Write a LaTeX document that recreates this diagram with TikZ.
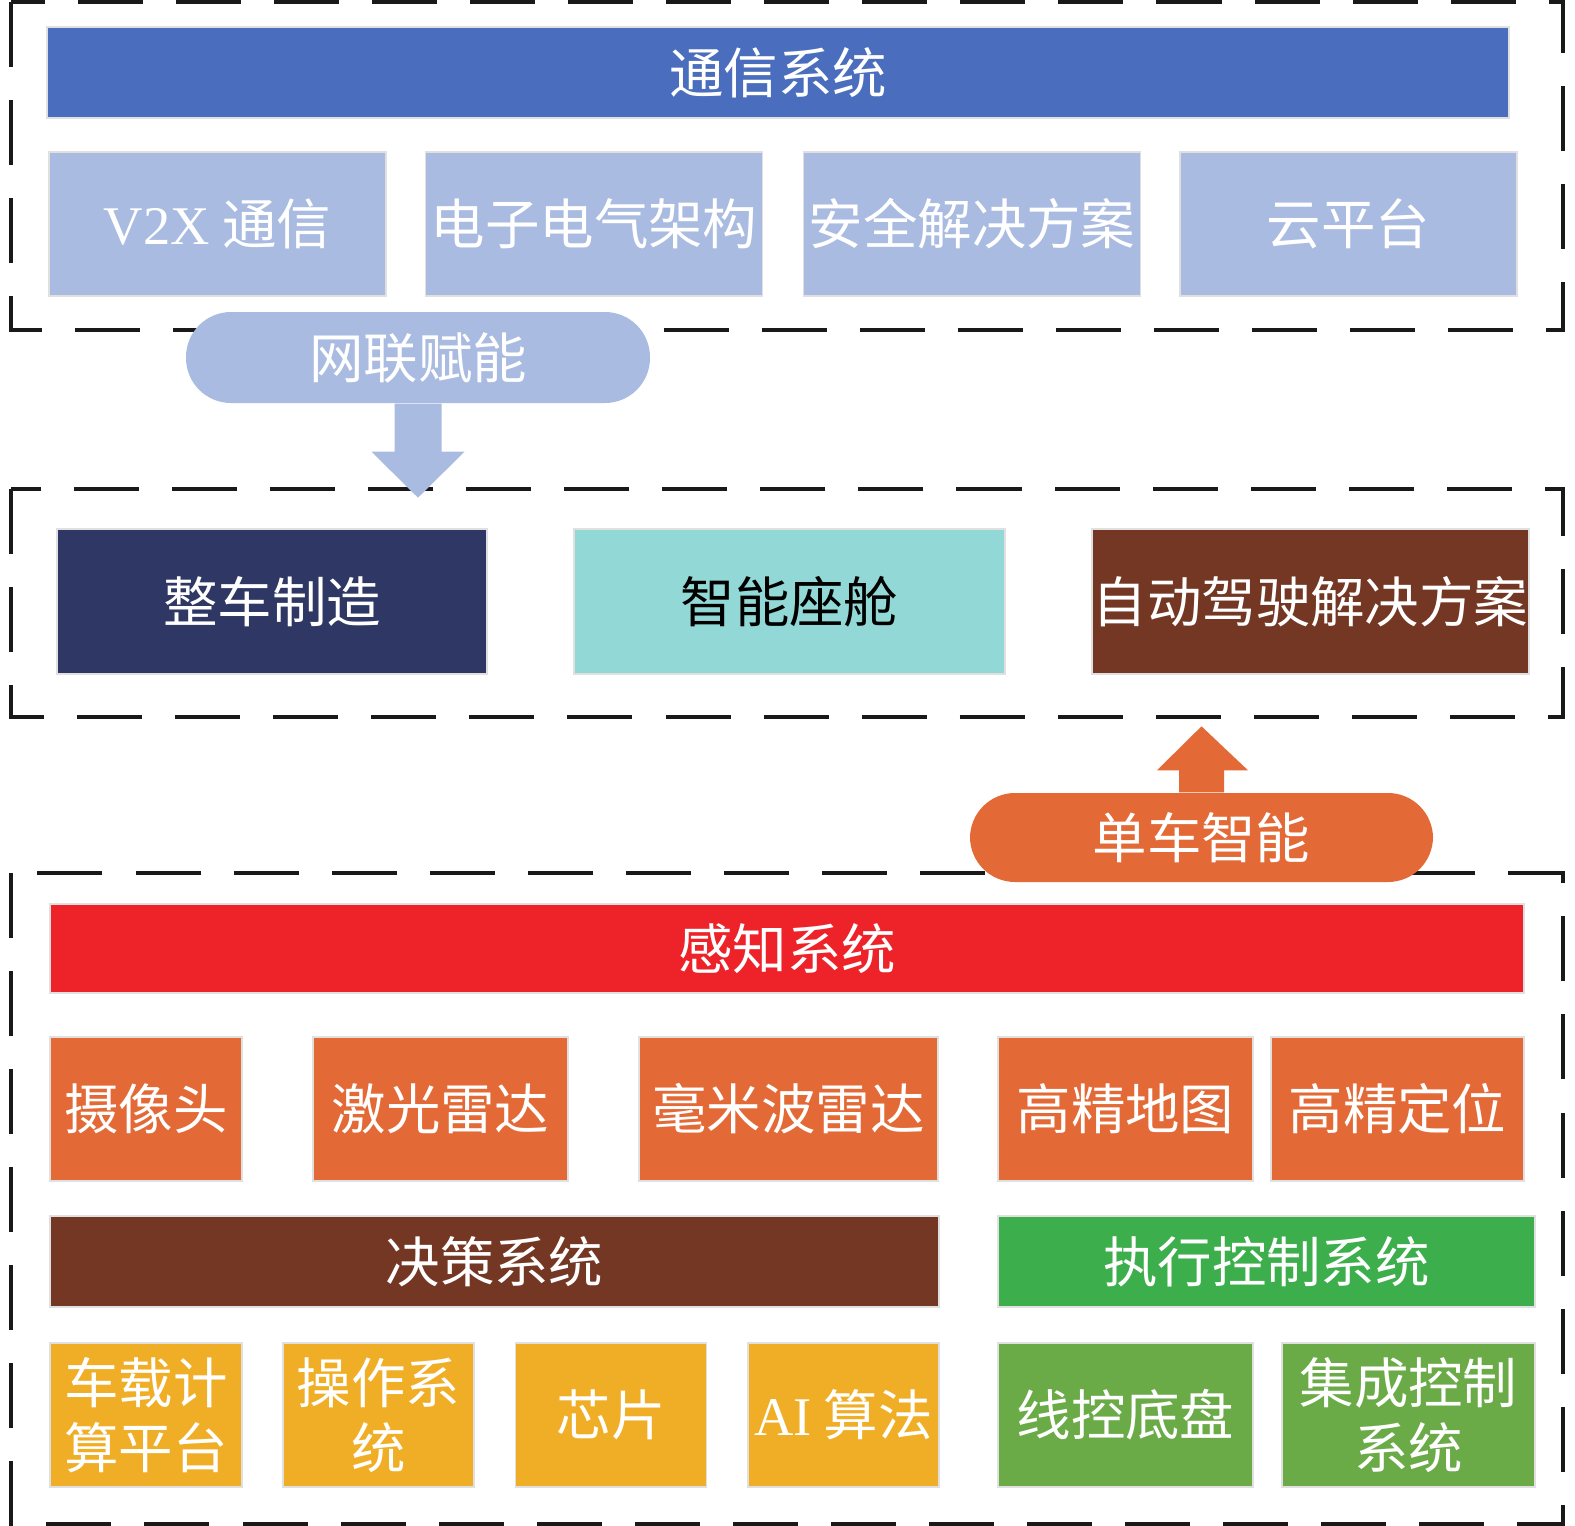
\documentclass[tikz,border=0pt]{standalone}
\usepackage{fontspec}
\newfontfamily\cjk{Noto Sans CJK SC}
\newfontfamily\lat{Liberation Serif}
\usepackage{xcolor}
\usepackage{tikz}
\usetikzlibrary{positioning, calc}
\definecolor{topblue}{HTML}{4A6EBD}
\definecolor{paleblue}{HTML}{A9BBE0}
\definecolor{navy}{HTML}{2F3864}
\definecolor{teal}{HTML}{92D8D6}
\definecolor{rust}{HTML}{733723}
\definecolor{carrot}{HTML}{E36A36}
\definecolor{alarm}{HTML}{EE2229}
\definecolor{leaf}{HTML}{3DAE4C}
\definecolor{amber}{HTML}{F0AE26}
\definecolor{moss}{HTML}{6AAB47}

\begin{document}
\begin{tikzpicture}[
  every node/.style={font=\cjk\fontsize{15.5}{18.5}\selectfont, inner sep=0pt, text=white, align=center},
  blk/.style={rectangle, draw=black!12, line width=0.3pt},
  pill/.style={rectangle, rounded corners=0.45cm},
  frame/.style={draw=black!90, line width=1.15pt, dash pattern=on 18.5pt off 9.4pt}]
  \useasboundingbox (0,0) rectangle (15.75,-15.26);
  % dashed frames
  \draw[frame] (0.11,-0.02) rectangle (15.63,-3.30);
  \draw[frame] (0.11,-4.89) rectangle (15.63,-7.17);
  \draw[frame] (0.11,-8.73) rectangle (15.63,-15.24);
  % communication layer
  \node[blk, fill=topblue, minimum width=14.62cm, minimum height=0.91cm] (com) at (7.78,-0.725) {通信系统};
  \node[blk, fill=paleblue, minimum width=3.37cm, minimum height=1.44cm] (v2x) at (2.175,-2.24) {{\lat V2X} 通信};
  \node[blk, fill=paleblue, minimum width=3.37cm, minimum height=1.44cm] (eea) at (5.94,-2.24) {电子电气架构};
  \node[blk, fill=paleblue, minimum width=3.37cm, minimum height=1.44cm] (sec) at (9.72,-2.24) {安全解决方案};
  \node[blk, fill=paleblue, minimum width=3.37cm, minimum height=1.44cm] (cld) at (13.485,-2.24) {云平台};
  \node[pill, fill=paleblue, minimum width=4.64cm, minimum height=0.91cm] (net) at (4.18,-3.575) {网联赋能};
  \fill[paleblue] ($(net.south)+(-0.235,0)$) -- ++(0.47,0) -- ++(0,-0.48) -- ++(0.23,0)
    -- ($(net.south)+(0,-0.94)$) -- ($(net.south)+(-0.465,-0.48)$) -- ++(0.23,0) -- cycle;
  % vehicle layer
  \node[blk, fill=navy, minimum width=4.30cm, minimum height=1.45cm] (mfg) at (2.72,-6.015) {整车制造};
  \node[blk, fill=teal, text=black, minimum width=4.31cm, minimum height=1.45cm] (cab) at (7.895,-6.015) {智能座舱};
  \node[blk, fill=rust, minimum width=4.37cm, minimum height=1.45cm] (ads) at (13.105,-6.015) {自动驾驶解决方案};
  \node[pill, fill=carrot, minimum width=4.63cm, minimum height=0.89cm] (solo) at (12.015,-8.375) {单车智能};
  \fill[carrot] ($(solo.north)+(-0.225,0)$) -- ++(0,0.22) -- ++(-0.22,0) -- ($(solo.north)+(0,0.66)$)
    -- ($(solo.north)+(0.465,0.22)$) -- ++(-0.24,0) -- ++(0,-0.22) -- cycle;
  % perception
  \node[blk, fill=alarm, minimum width=14.74cm, minimum height=0.89cm] (per) at (7.87,-9.485) {感知系统};
  \node[blk, fill=carrot, minimum width=1.92cm, minimum height=1.44cm] (cam) at (1.46,-11.09) {摄像头};
  \node[blk, fill=carrot, minimum width=2.55cm, minimum height=1.44cm] (lid) at (4.405,-11.09) {激光雷达};
  \node[blk, fill=carrot, minimum width=2.99cm, minimum height=1.44cm] (mmw) at (7.885,-11.09) {毫米波雷达};
  \node[blk, fill=carrot, minimum width=2.55cm, minimum height=1.44cm] (map) at (11.255,-11.09) {高精地图};
  \node[blk, fill=carrot, minimum width=2.53cm, minimum height=1.44cm] (loc) at (13.975,-11.09) {高精定位};
  % decision and actuation
  \node[blk, fill=rust, minimum width=8.89cm, minimum height=0.91cm] (dec) at (4.945,-12.615) {决策系统};
  \node[blk, fill=leaf, minimum width=5.37cm, minimum height=0.91cm] (act) at (12.665,-12.615) {执行控制系统};
  \node[blk, fill=amber, minimum width=1.92cm, minimum height=1.44cm] (cpu) at (1.46,-14.15) {车载计\\算平台};
  \node[blk, fill=amber, minimum width=1.91cm, minimum height=1.44cm] (os) at (3.785,-14.15) {操作系\\统};
  \node[blk, fill=amber, minimum width=1.91cm, minimum height=1.44cm] (chip) at (6.11,-14.15) {芯片};
  \node[blk, fill=amber, minimum width=1.91cm, minimum height=1.44cm] (algo) at (8.435,-14.15) {{\lat AI} 算法};
  \node[blk, fill=moss, minimum width=2.55cm, minimum height=1.44cm] (bwc) at (11.255,-14.15) {线控底盘};
  \node[blk, fill=moss, minimum width=2.53cm, minimum height=1.44cm] (icu) at (14.085,-14.15) {集成控制\\系统};
\end{tikzpicture}
\end{document}
